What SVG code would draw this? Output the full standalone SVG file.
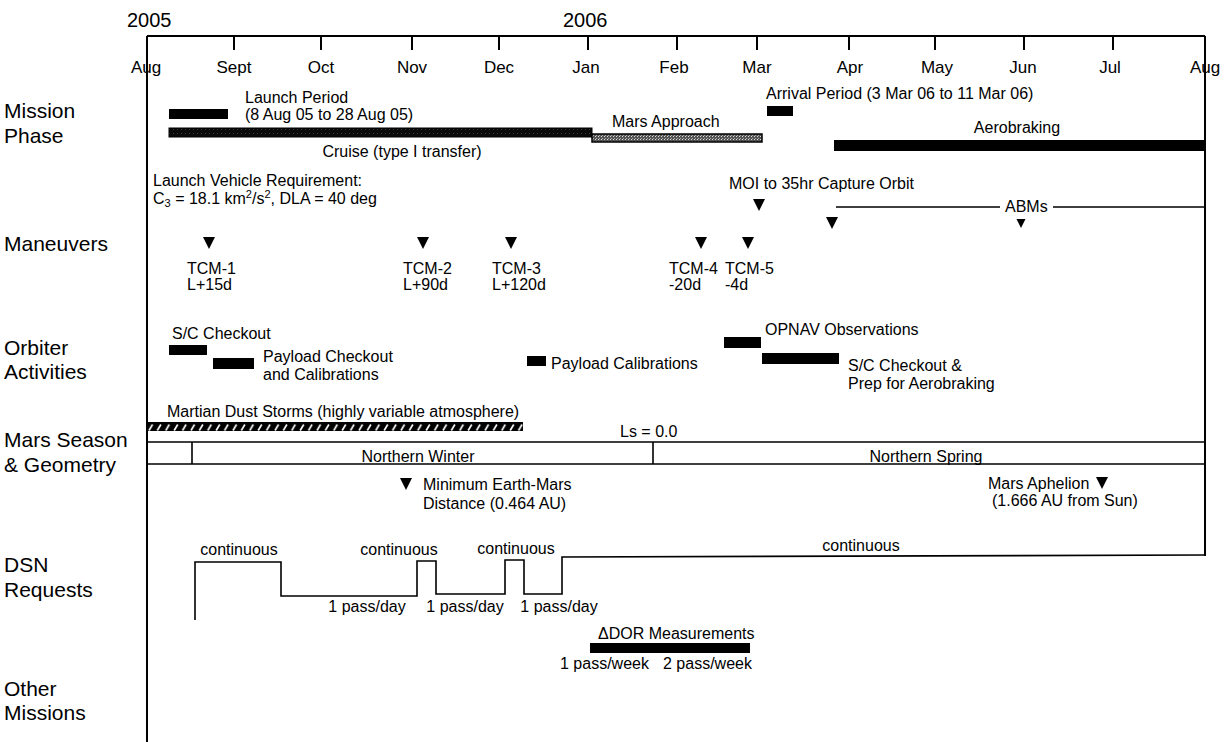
<svg xmlns="http://www.w3.org/2000/svg" xmlns:xlink="http://www.w3.org/1999/xlink" width="1226" height="742" viewBox="0 0 1226 742">
<style>
text{font-family:"Liberation Sans",Arial,Helvetica,sans-serif;fill:#000}
.lbl{font-size:21px}
.yr{font-size:20px}
.mon{font-size:17px;text-anchor:middle}
.t{font-size:16px}
.mid{text-anchor:middle}
.ax{stroke:#000;stroke-width:2;fill:none}
.ln{stroke:#000;stroke-width:1.6;fill:none}
.bar{fill:#000}
</style>
<defs>
<path id="tri" d="M-6,0 H6 L0,12 Z" fill="#000"/>
<pattern id="stip" width="4" height="4" patternUnits="userSpaceOnUse">
<rect width="4" height="4" fill="#0a0a0a"/>
<rect x="1" y="1" width="1" height="1" fill="#3a3a3a"/>
</pattern>
<pattern id="gray" width="3" height="3" patternUnits="userSpaceOnUse">
<rect width="3" height="3" fill="#555"/>
<rect x="1" y="1" width="1" height="1" fill="#ddd"/>
<rect x="2" y="0" width="1" height="1" fill="#aaa"/>
</pattern>
<pattern id="hatch" x="147" y="423" width="8.4" height="9" patternUnits="userSpaceOnUse">
<rect width="8.4" height="9" fill="#000"/>
<path d="M2,7.5 L5.5,1.5" stroke="#fff" stroke-width="1.6"/>
</pattern>
</defs>

<g id="axis">
<path class="ax" d="M147,36 H1205 M147,36 V742 M1205,36 V556"/>
<path class="ax" d="M234,36 V50 M321,36 V50 M412,36 V50 M499,36 V50 M588,36 V50 M677,36 V50 M757,36 V50 M849,36 V50 M935,36 V50 M1024,36 V50 M1113,36 V50"/>
<text class="yr" x="127" y="27">2005</text>
<text class="yr" x="563" y="27">2006</text>
<text class="mon" x="146" y="73">Aug</text>
<text class="mon" x="234" y="73">Sept</text>
<text class="mon" x="321" y="73">Oct</text>
<text class="mon" x="412" y="73">Nov</text>
<text class="mon" x="499" y="73">Dec</text>
<text class="mon" x="586" y="73">Jan</text>
<text class="mon" x="674" y="73">Feb</text>
<text class="mon" x="757" y="73">Mar</text>
<text class="mon" x="850" y="73">Apr</text>
<text class="mon" x="937" y="73">May</text>
<text class="mon" x="1023" y="73">Jun</text>
<text class="mon" x="1110" y="73">Jul</text>
<text class="mon" x="1205" y="73">Aug</text>
</g>

<g id="row-labels">
<text class="lbl" x="4" y="118">Mission</text>
<text class="lbl" x="4" y="143">Phase</text>
<text class="lbl" x="4" y="251">Maneuvers</text>
<text class="lbl" x="4" y="355">Orbiter</text>
<text class="lbl" x="4" y="379">Activities</text>
<text class="lbl" x="4" y="447">Mars Season</text>
<text class="lbl" x="4" y="472">&amp; Geometry</text>
<text class="lbl" x="4" y="572">DSN</text>
<text class="lbl" x="4" y="597">Requests</text>
<text class="lbl" x="4" y="696">Other</text>
<text class="lbl" x="4" y="720">Missions</text>
</g>

<g id="launch-period">
<rect class="bar" x="169" y="109" width="59" height="10"/>
<text class="t" x="245" y="103">Launch Period</text>
<text class="t" x="245" y="120">(8 Aug 05 to 28 Aug 05)</text>
</g>
<g id="cruise">
<rect x="169" y="128" width="423" height="9" fill="url(#stip)" stroke="#000" stroke-width="1"/>
<text class="t mid" x="402" y="157">Cruise (type I transfer)</text>
</g>
<g id="mars-approach">
<rect x="592" y="134" width="170" height="8" fill="url(#gray)" stroke="#000" stroke-width="1.5"/>
<text class="t" x="612" y="127">Mars Approach</text>
</g>
<g id="arrival-period">
<rect class="bar" x="767" y="106" width="26" height="10"/>
<text class="t" x="766" y="99">Arrival Period  (3 Mar 06 to 11 Mar 06)</text>
</g>
<g id="aerobraking">
<rect class="bar" x="834" y="140" width="371" height="11"/>
<text class="t mid" x="1017" y="133">Aerobraking</text>
</g>

<g id="lv-requirement">
<text class="t" x="153" y="186">Launch Vehicle Requirement:</text>
<text class="t" x="153" y="204">C<tspan font-size="11" dy="3">3</tspan><tspan dy="-3"> = 18.1 km</tspan><tspan font-size="11" dy="-6">2</tspan><tspan dy="6">/s</tspan><tspan font-size="11" dy="-6">2</tspan><tspan dy="6">, DLA = 40 deg</tspan></text>
</g>
<g id="tcm-1">
<use xlink:href="#tri" x="209" y="237"/>
<text class="t" x="187" y="274">TCM-1</text>
<text class="t" x="187" y="290">L+15d</text>
</g>
<g id="tcm-2">
<use xlink:href="#tri" x="423" y="237"/>
<text class="t" x="403" y="274">TCM-2</text>
<text class="t" x="403" y="290">L+90d</text>
</g>
<g id="tcm-3">
<use xlink:href="#tri" x="511" y="237"/>
<text class="t" x="492" y="274">TCM-3</text>
<text class="t" x="492" y="290">L+120d</text>
</g>
<g id="tcm-4">
<use xlink:href="#tri" x="701" y="237"/>
<text class="t" x="669" y="274">TCM-4</text>
<text class="t" x="669" y="290">-20d</text>
</g>
<g id="tcm-5">
<use xlink:href="#tri" x="748" y="237"/>
<text class="t" x="725" y="274">TCM-5</text>
<text class="t" x="725" y="290">-4d</text>
</g>
<g id="moi">
<use xlink:href="#tri" x="759" y="199"/>
<text class="t" x="729" y="189">MOI to 35hr Capture Orbit</text>
</g>
<g id="abms">
<path class="ln" d="M836,207 H1000 M1053,207 H1205"/>
<text class="t" x="1005" y="212">ABMs</text>
<use xlink:href="#tri" x="832" y="217"/>
<use xlink:href="#tri" transform="translate(1021,219) scale(0.75)"/>
</g>

<g id="sc-checkout">
<rect class="bar" x="169" y="345" width="38" height="10"/>
<text class="t" x="172" y="339">S/C Checkout</text>
</g>
<g id="payload-checkout">
<rect class="bar" x="213" y="358" width="41" height="11"/>
<text class="t" x="263" y="362">Payload Checkout</text>
<text class="t" x="263" y="380">and Calibrations</text>
</g>
<g id="payload-calibrations">
<rect class="bar" x="527" y="356" width="19" height="10"/>
<text class="t" x="551" y="369">Payload Calibrations</text>
</g>
<g id="opnav">
<rect class="bar" x="724" y="337" width="37" height="11"/>
<text class="t" x="765" y="335">OPNAV Observations</text>
</g>
<g id="sc-checkout-prep">
<rect class="bar" x="762" y="353" width="77" height="11"/>
<text class="t" x="848" y="371">S/C Checkout &amp;</text>
<text class="t" x="848" y="389">Prep for Aerobraking</text>
</g>

<g id="dust-storms">
<rect x="147" y="422" width="376" height="9" fill="url(#hatch)"/>
<text class="t" x="167" y="417">Martian Dust Storms (highly variable atmosphere)</text>
</g>
<g id="ls">
<text class="t" x="620" y="437">Ls = 0.0</text>
</g>
<g id="seasons">
<path class="ln" d="M147,442 H1205 M147,464 H1205 M192,442 V464 M653,442 V464"/>
<text class="t mid" x="418" y="462">Northern Winter</text>
<text class="t mid" x="926" y="462">Northern Spring</text>
</g>
<g id="min-distance">
<use xlink:href="#tri" x="406" y="478"/>
<text class="t" x="423" y="490">Minimum Earth-Mars</text>
<text class="t" x="423" y="509">Distance (0.464 AU)</text>
</g>
<g id="aphelion">
<use xlink:href="#tri" x="1102" y="477"/>
<text class="t" x="988" y="489">Mars Aphelion</text>
<text class="t" x="992" y="506">(1.666 AU from Sun)</text>
</g>

<g id="connectors">
<path class="ln" d="M195,620 V562 H281 V596 H417 V561 H436 V594 H505 V560 H524 V594 H562 V557 L1205,555"/>
</g>
<g id="dsn-labels">
<text class="t mid" x="239" y="555">continuous</text>
<text class="t mid" x="399" y="555">continuous</text>
<text class="t mid" x="516" y="554">continuous</text>
<text class="t mid" x="861" y="551">continuous</text>
<text class="t mid" x="367" y="612">1 pass/day</text>
<text class="t mid" x="465" y="612">1 pass/day</text>
<text class="t mid" x="559" y="612">1 pass/day</text>
</g>
<g id="delta-dor">
<text class="t" x="598" y="639">ΔDOR Measurements</text>
<rect class="bar" x="590" y="643" width="160" height="10"/>
<text class="t" x="560" y="669">1 pass/week</text>
<text class="t" x="663" y="669">2 pass/week</text>
</g>
</svg>
